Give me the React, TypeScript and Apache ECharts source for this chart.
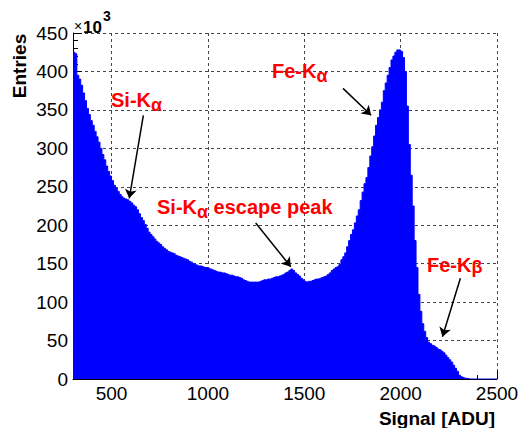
import React, { useEffect, useRef } from 'react';
import * as echarts from 'echarts';

// Histogram: bin lower edges start at 300 ADU, 10 ADU wide; values in units of 10^3 entries
const binStart = 300;
const binWidth = 10;
const xMax = 2500;
const entries = [
  425, 423, 395, 390, 382, 372, 362, 352, 344, 336, // 300
  330, 322, 315, 308, 300, 292, 285, 277, 270, 264, // 400
  258, 252, 248, 244, 240, 237, 235, 234, 233, 231, // 500
  229, 226, 224, 220, 215, 210, 206, 201, 196, 191, // 600
  188, 185, 182, 179, 177, 175, 172, 170, 168, 166, // 700
  165, 164, 163, 161, 160, 159, 158, 157, 156, 155, // 800
  153, 152, 150, 149, 148, 147, 147, 146, 145, 145, // 900
  144, 143, 142, 141, 140, 139, 139, 138, 138, 137, // 1000
  136, 135, 135, 134, 133, 133, 132, 131, 129, 128, // 1100
  127, 126, 126, 126, 126, 126, 126, 127, 128, 129, // 1200
  129, 130, 130, 131, 132, 133, 133, 134, 135, 136, // 1300
  138, 139, 141, 143, 141, 138, 136, 134, 131, 129, // 1400
  127, 126, 127, 127, 128, 129, 130, 130, 131, 132, // 1500
  133, 134, 136, 138, 141, 143, 145, 146, 149, 155, // 1600
  159, 164, 172, 180, 188, 194, 203, 212, 220, 232, // 1700
  243, 254, 262, 275, 290, 302, 316, 330, 340, 350, // 1800
  360, 375, 385, 395, 405, 415, 420, 425, 428, 428, // 1900
  426, 418, 400, 355, 305, 265, 225, 180, 145, 110, // 2000
  88, 72, 62, 54, 48, 46, 44, 43, 41, 39, // 2100
  38, 36, 34, 31, 28, 25, 22, 18, 14, 10, // 2200
  5, 3, 2, 1, 0.5, 0, 0, 0, 0, 0, // 2300
  0, 0, 0, 0, 0, 0, 0, 0, 0, 0, // 2400
];

const xMajorTicks = [500, 1000, 1500, 2000, 2500];
const xMinorTicks = [400, 500, 600, 700, 800, 900, 1000, 1100, 1200, 1300, 1400, 1500, 1600, 1700, 1800, 1900, 2000, 2100, 2200, 2300, 2400];
const yMin = 0;
const yMax = 450;
const yStep = 50;

// Annotation arrows in data coordinates [ADU, 10^3 entries]
const arrowFrom = [[665, 343], [1701, 378], [1248, 203], [2310, 131]];
const arrowTo = [[592, 235], [1847, 343], [1430, 146], [2217, 55]];

const FONT = '"Liberation Sans", Arial, Helvetica, sans-serif';

export default function App() {
  const ref = useRef<HTMLDivElement>(null);

  useEffect(() => {
    document.body.style.margin = '0';
    if (!ref.current) return;
    const chart = echarts.init(ref.current, undefined, { renderer: 'svg' });

    const data: number[][] = entries.map((v, i) => [binStart + i * binWidth, v]);
    data.push([xMax, 0]);

    const red = '#ff0000';

    const annot = (main: string, sub: string, rest: string, x: number, y: number, subPad: number) => ({
      type: 'text',
      x,
      y,
      silent: true,
      z: 100,
      style: {
        text: `{a|${main}}{b|${sub}}` + (rest ? `{a|${rest}}` : ''),
        textAlign: 'left',
        textVerticalAlign: 'top',
        rich: {
          a: { fill: red, fontSize: 20, lineHeight: 20, fontWeight: 'bold', fontFamily: FONT, verticalAlign: 'top' },
          b: { fill: red, fontSize: 18, lineHeight: 18, fontWeight: 'bold', fontFamily: FONT, verticalAlign: 'top', padding: [subPad, 0, 0, 0] },
        },
      },
    });

    const gridLine = { show: true, lineStyle: { color: '#444', width: 1, type: [3, 3] } };

    chart.setOption({
      animation: false,
      grid: { left: 73, right: 28, top: 33, bottom: 49 },
      xAxis: [
        {
          type: 'value',
          min: binStart,
          max: xMax,
          axisLine: { show: true, lineStyle: { color: '#000', width: 1 } },
          axisTick: { show: true, inside: true, length: 4, customValues: xMinorTicks, lineStyle: { color: '#000' } },
          axisLabel: { show: false },
          splitLine: { show: false },
        },
        {
          type: 'value',
          min: binStart,
          max: xMax,
          position: 'bottom',
          axisLine: { show: false },
          axisTick: { show: true, inside: true, length: 8, customValues: xMajorTicks, lineStyle: { color: '#000' } },
          axisLabel: {
            show: true,
            customValues: xMajorTicks,
            formatter: (v: number) => String(v),
            color: '#000',
            fontSize: 19,
            fontFamily: FONT,
            margin: 5,
          },
          splitLine: gridLine,
        },
      ],
      yAxis: {
        type: 'value',
        min: yMin,
        max: yMax,
        interval: yStep,
        position: 'left',
        axisLine: { show: true, lineStyle: { color: '#000', width: 1 } },
        axisTick: { show: true, inside: true, length: 9, lineStyle: { color: '#000' } },
        minorTick: { show: true, splitNumber: 5, length: 5, lineStyle: { color: '#000' } },
        axisLabel: { color: '#000', fontSize: 19, fontFamily: FONT, margin: 5 },
        splitLine: gridLine,
      },
      series: [
        {
          type: 'line',
          xAxisIndex: 0,
          yAxisIndex: 0,
          step: 'end',
          data,
          symbol: 'none',
          silent: true,
          lineStyle: { color: '#0000ff', width: 1 },
          areaStyle: { color: '#0000ff', opacity: 1 },
          markLine: {
            silent: true,
            symbol: ['none', 'arrow'],
            symbolSize: 9,
            label: { show: false },
            lineStyle: { color: '#000', width: 1.5, type: 'solid' },
            data: arrowFrom.map((f, i) => [{ coord: f }, { coord: arrowTo[i] }]),
          },
        },
      ],
      graphic: [
        {
          type: 'text',
          x: 19,
          y: 66,
          rotation: Math.PI / 2,
          silent: true,
          style: {
            text: 'Entries',
            fill: '#000',
            fontSize: 19,
            fontWeight: 'bold',
            fontFamily: FONT,
            textAlign: 'center',
            textVerticalAlign: 'middle',
          },
        },
        {
          type: 'text',
          x: 495,
          y: 418,
          silent: true,
          style: {
            text: 'Signal [ADU]',
            fill: '#000',
            fontSize: 19,
            fontWeight: 'bold',
            fontFamily: FONT,
            textAlign: 'right',
            textVerticalAlign: 'middle',
          },
        },
        {
          type: 'text',
          x: 74,
          y: 26,
          silent: true,
          style: { text: '×', fill: '#000', fontSize: 14, fontFamily: FONT, textAlign: 'left', textVerticalAlign: 'middle' },
        },
        {
          type: 'text',
          x: 83,
          y: 27.5,
          silent: true,
          style: { text: '10', fill: '#000', fontSize: 17, fontWeight: 'bold', fontFamily: FONT, textAlign: 'left', textVerticalAlign: 'middle' },
        },
        {
          type: 'text',
          x: 103,
          y: 16,
          silent: true,
          style: { text: '3', fill: '#000', fontSize: 14, fontWeight: 'bold', fontFamily: FONT, textAlign: 'left', textVerticalAlign: 'middle' },
        },
        annot('Si-K', 'α', '', 111, 90, 6),
        annot('Fe-K', 'α', '', 272, 60.5, 6),
        annot('Si-K', 'α', ' escape peak', 157, 197, 6),
        annot('Fe-K', 'β', '', 427, 254.5, 3),
      ],
    });

    return () => chart.dispose();
  }, []);

  return <div ref={ref} style={{ width: 525, height: 428 }} />;
}
